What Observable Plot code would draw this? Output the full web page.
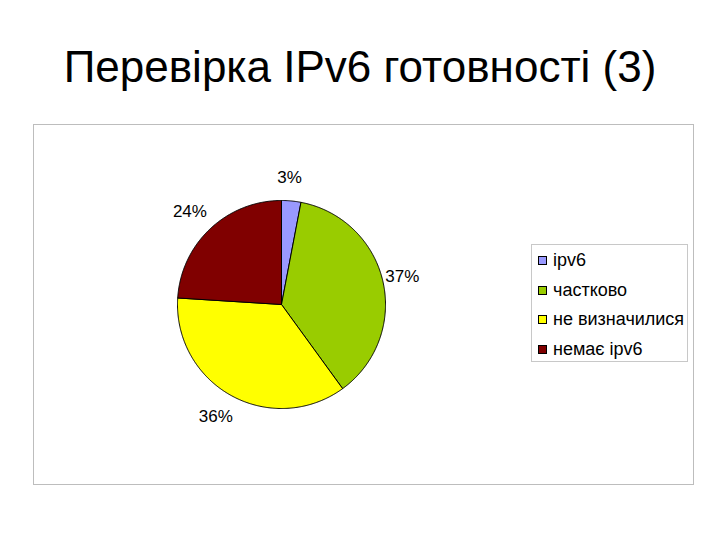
<!DOCTYPE html>
<html>
<head>
<meta charset="utf-8">
<script src="https://cdn.jsdelivr.net/npm/d3@7"></script>
<script src="https://cdn.jsdelivr.net/npm/@observablehq/plot@0.6"></script>
<style>
  html, body { margin: 0; padding: 0; background: #fff; }
  #page { position: relative; width: 720px; height: 540px; overflow: hidden; font-family: "Liberation Sans", Arial, sans-serif; }
  #title { position: absolute; left: 0; width: 720px; top: 45px; text-align: center; font-size: 44px; line-height: 1; color: #000; white-space: nowrap; }
  #box { position: absolute; left: 33px; top: 124px; width: 659px; height: 359px; border: 1px solid #bdbdbd; }
  #chart { position: absolute; left: 0; top: 0; }
  #legend { position: absolute; left: 497px; top: 119px; width: 155px; height: 116px; border: 1px solid #c8c8c8; }
  .item { position: absolute; left: 6px; height: 20px; font-size: 18px; line-height: 20px; white-space: nowrap; color: #000; }
  .sw { position: absolute; left: 0; top: 6px; width: 7px; height: 7px; border: 1px solid #000; }
  .lbl { position: absolute; left: 15px; top: 0; }
</style>
</head>
<body>
<div id="page">
  <div id="title"></div>
  <div id="box">
    <div id="chart"></div>
    <div id="legend"></div>
  </div>
</div>
<script>
const titleText = "Перевірка IPv6 готовності (3)";
const categories = ["ipv6", "частково", "не визначилися", "немає ipv6"];
const shares = [3, 37, 36, 24];
const colors = ["#9999FF", "#99CC00", "#FFFF00", "#800000"];

document.getElementById("title").textContent = titleText;

// pie geometry via d3.pie (start at 12 o'clock, clockwise, data order)
const pie = d3.pie().sort(null).value(d => d.value);
const arcs = pie(categories.map((c, i) => ({key: c, value: shares[i]})));
const total = d3.sum(shares);

// outline points for each slice in unit-circle space
const slicePts = [];
arcs.forEach(a => {
  const k = a.data.key;
  slicePts.push({key: k, x: 0, y: 0});
  const n = Math.max(2, Math.ceil((a.endAngle - a.startAngle) / (Math.PI / 360)));
  for (let j = 0; j <= n; j++) {
    const t = a.startAngle + (a.endAngle - a.startAngle) * j / n;
    slicePts.push({key: k, x: Math.sin(t), y: Math.cos(t)});
  }
  slicePts.push({key: k, x: 0, y: 0});
});

const labelR = 1.23;
const labels = arcs.map(a => {
  const m = (a.startAngle + a.endAngle) / 2;
  return {x: labelR * Math.sin(m), y: labelR * Math.cos(m), text: Math.round(100 * a.data.value / total) + "%"};
});

const cx = 247, cy = 179, R = 104;
const chart = Plot.plot({
  width: 659,
  height: 359,
  margin: 0,
  style: {background: "transparent", fontFamily: "Liberation Sans, Arial, sans-serif"},
  x: {type: "linear", domain: [-1, 1], range: [cx - R, cx + R], axis: null},
  y: {type: "linear", domain: [-1, 1], range: [cy + R, cy - R], axis: null},
  color: {domain: categories, range: colors},
  marks: [
    Plot.line(slicePts, {x: "x", y: "y", z: "key", fill: "key", stroke: "#000", strokeWidth: 1, strokeLinejoin: "round", curve: "linear"}),
    Plot.text(labels, {x: "x", y: "y", text: "text", fontSize: 17, fill: "#000", textAnchor: "middle", dx: -4})
  ]
});
document.getElementById("chart").appendChild(chart);

// legend
const legend = document.getElementById("legend");
categories.forEach((c, i) => {
  const it = document.createElement("div");
  it.className = "item";
  it.style.top = (5 + i * 29.7) + "px";
  const sw = document.createElement("div");
  sw.className = "sw";
  sw.style.background = colors[i];
  const lb = document.createElement("div");
  lb.className = "lbl";
  lb.textContent = c;
  it.appendChild(sw);
  it.appendChild(lb);
  legend.appendChild(it);
});
</script>
</body>
</html>
